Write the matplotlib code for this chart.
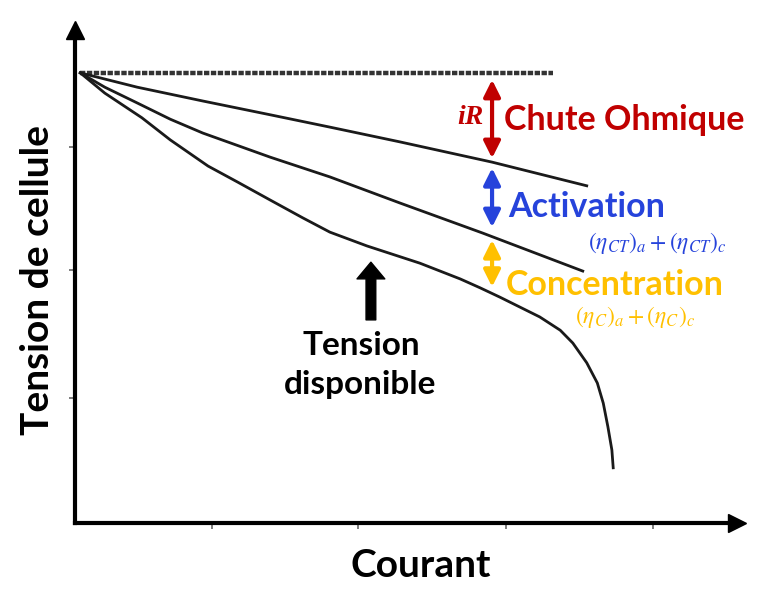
import matplotlib
matplotlib.use("Agg")
import matplotlib.pyplot as plt

plt.rcParams['font.family'] = ['Lato', 'DejaVu Sans']
plt.rcParams['mathtext.fontset'] = 'stix'

# courbes (unites arbitraires, 0..10)
ohm_x = [0.08, 0.94, 1.93, 2.95, 3.85, 4.91, 6.30, 7.73]
ohm_y = [9.13, 8.84, 8.56, 8.28, 8.03, 7.73, 7.32, 6.84]

act_x = [0.08, 0.45, 0.94, 1.44, 1.93, 2.95, 3.85, 4.91, 6.16, 7.67]
act_y = [9.13, 8.84, 8.52, 8.19, 7.91, 7.42, 7.02, 6.49, 5.88, 5.11]

dispo_x = [0.08, 0.45, 1.01, 1.44, 2.01, 2.45, 2.95, 3.44, 3.85, 4.41, 5.21, 5.82,
           6.12, 6.42, 6.72, 7.02, 7.33, 7.52, 7.73, 7.89, 7.98, 8.05, 8.11, 8.13]
dispo_y = [9.13, 8.72, 8.22, 7.77, 7.24, 6.92, 6.55, 6.19, 5.90, 5.62, 5.27, 4.95,
           4.77, 4.58, 4.38, 4.18, 3.91, 3.65, 3.25, 2.84, 2.43, 1.95, 1.48, 1.12]

# tension theorique (ligne pointillee)
ideal_x = [0.08, 7.22]
ideal_y = [9.13, 9.13]

# fleches des pertes : (y_haut, y_bas)
loss_x = 6.30
ohm_span = (8.99, 7.40)
act_span = (7.20, 6.00)
conc_span = (5.74, 4.79)
dispo_arrow = (4.47, 4.12, 5.29)

xticks = [2.07, 4.27, 6.51, 8.73]
yticks = [2.54, 5.13, 7.63]

red = '#C00000'
blue = '#2643DB'
yellow = '#FFC000'

fig = plt.figure(figsize=(7.71, 6.0), dpi=100)
ax = fig.add_axes([75 / 771, 77 / 600, 662 / 771, 493 / 600])
ax.set_xlim(0, 10)
ax.set_ylim(0, 10)

for s in ['top', 'right']:
    ax.spines[s].set_visible(False)
for s in ['left', 'bottom']:
    ax.spines[s].set_linewidth(3)
ax.set_xticks(xticks)
ax.set_yticks(yticks)
ax.set_xticklabels([])
ax.set_yticklabels([])
ax.tick_params(direction='out', length=4, width=1.2, color='#666666')

# fleches des axes
ax.plot([0], [1], marker='^', ms=13, color='black', transform=ax.transAxes, clip_on=False)
ax.plot([1], [0], marker='>', ms=13, color='black', transform=ax.transAxes, clip_on=False)

ax.plot(ideal_x, ideal_y, color='#333333', lw=3.2, dashes=(1.2, 0.35))
ax.plot(ohm_x, ohm_y, color='#1a1a1a', lw=2)
ax.plot(act_x, act_y, color='#1a1a1a', lw=2)
ax.plot(dispo_x, dispo_y, color='#1a1a1a', lw=2, solid_joinstyle='round')

for span, col in [(ohm_span, red), (act_span, blue), (conc_span, yellow)]:
    ax.annotate('', xy=(loss_x, span[1]), xytext=(loss_x, span[0]),
                arrowprops=dict(arrowstyle='<|-|>,head_length=0.5,head_width=0.25',
                                color=col, lw=3, mutation_scale=20,
                                shrinkA=0, shrinkB=0))

ax.annotate('', xy=(dispo_arrow[0], dispo_arrow[2]), xytext=(dispo_arrow[0], dispo_arrow[1]),
            arrowprops=dict(arrowstyle='simple,head_length=0.6,head_width=1.0,tail_width=0.35',
                            color='black', mutation_scale=20, shrinkA=0, shrinkB=0))

ax.text(5.97, 8.22, 'iR', color=red, fontsize=20, family='Liberation Serif',
        style='italic', weight='bold', ha='center', va='center')
ax.text(6.48, 8.17, 'Chute Ohmique', color=red, fontsize=24.5, weight='bold', va='center')
ax.text(6.54, 6.41, 'Activation', color=blue, fontsize=24.5, weight='bold', va='center')
ax.text(7.75, 5.68, r'$(\eta_{CT})_a + (\eta_{CT})_c$', color=blue, fontsize=17, va='center')
ax.text(6.50, 4.83, 'Concentration', color=yellow, fontsize=24.5, weight='bold', va='center')
ax.text(7.55, 4.18, r'$(\eta_{C})_a + (\eta_{C})_c$', color=yellow, fontsize=17, va='center')
ax.text(4.32, 3.61, 'Tension', color='black', fontsize=24, weight='bold', ha='center', va='center')
ax.text(4.31, 2.80, 'disponible', color='black', fontsize=24, weight='bold', ha='center', va='center')

fig.text(0.546, 0.058, 'Courant', fontsize=28, weight='bold', ha='center', va='center')
fig.text(0.049, 0.533, 'Tension de cellule', fontsize=28, weight='bold', rotation=90,
         ha='center', va='center')

fig.savefig('out.png', dpi=100)
